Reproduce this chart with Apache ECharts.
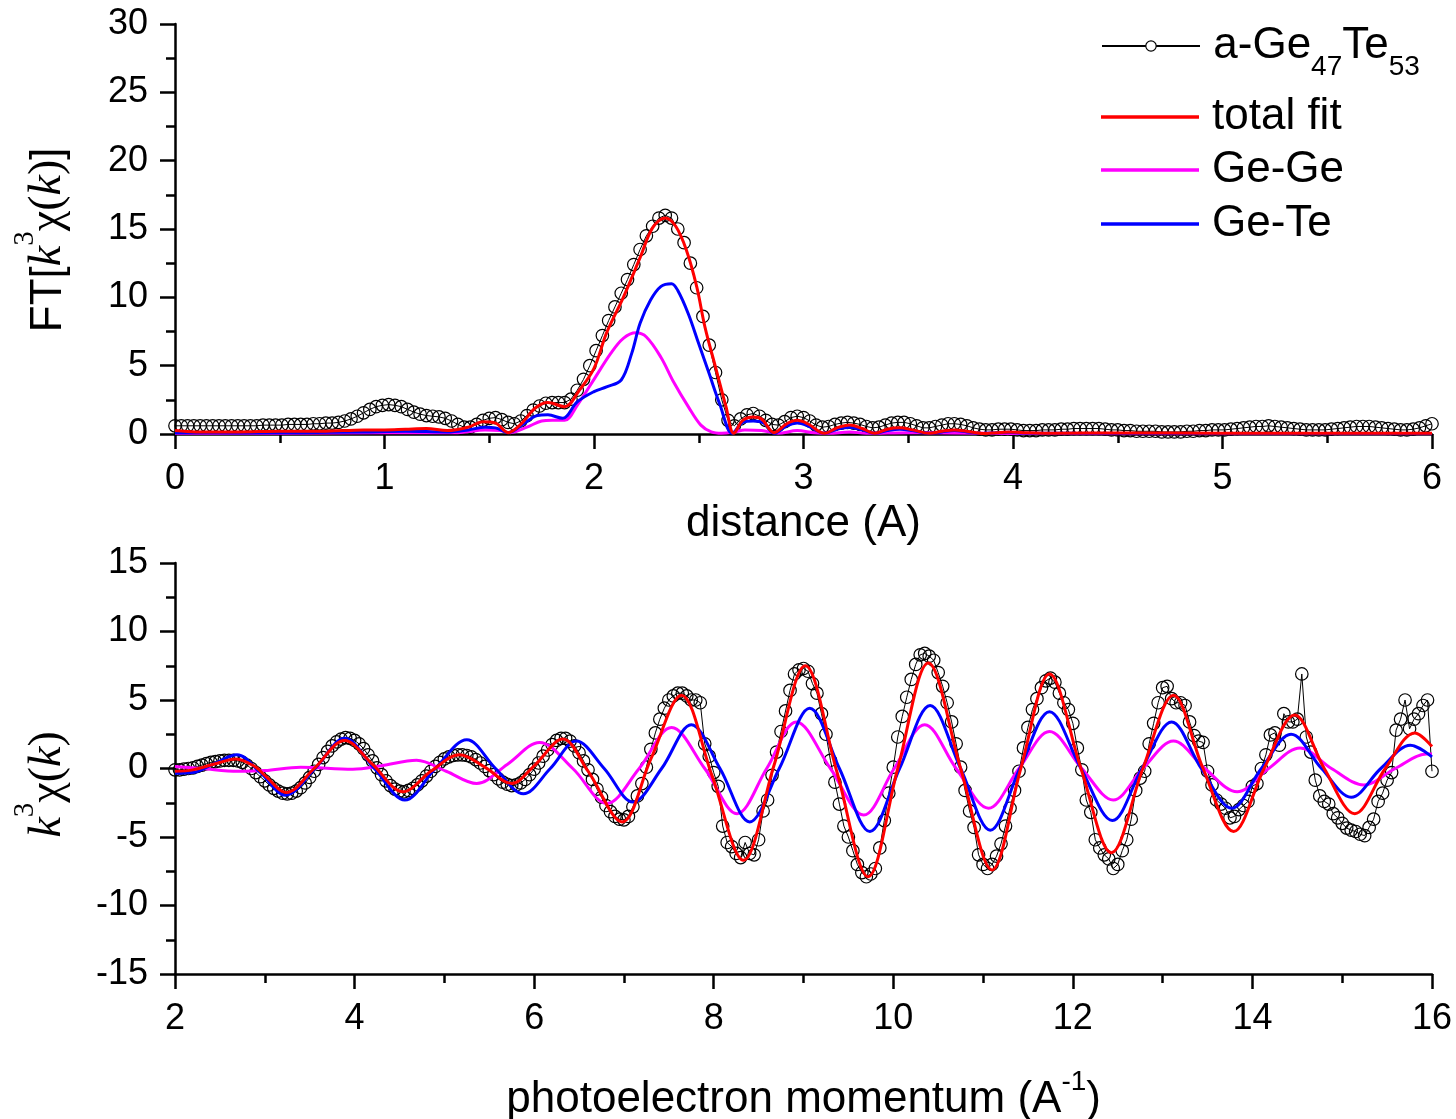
<!DOCTYPE html>
<html>
<head>
<meta charset="utf-8">
<script src="https://cdn.jsdelivr.net/npm/echarts@6/dist/echarts.min.js"></script>
<style>
html,body{margin:0;padding:0;background:#fff;}
#c{width:1456px;height:1119px;}
</style>
</head>
<body>
<div id="c"></div>
<script>
// ---------- Top panel: FT magnitude vs distance ----------
const ftStart = 0;
const ftStep = 0.03;
const ftData = [
0.6,0.6,0.6,0.6,0.6,0.6,0.6,0.6,0.6,0.6,
0.6,0.6,0.6,0.6,0.65,0.65,0.65,0.65,0.7,0.7,
0.7,0.7,0.75,0.75,0.8,0.8,0.85,0.95,1.1,1.3,
1.55,1.8,2.0,2.1,2.15,2.1,2.0,1.8,1.6,1.45,
1.35,1.3,1.25,1.15,0.95,0.7,0.5,0.5,0.7,1.0,
1.15,1.2,1.05,0.85,0.75,0.95,1.35,1.75,2.05,2.25,
2.3,2.3,2.3,2.55,3.2,4.0,5.0,6.1,7.2,8.3,
9.3,10.3,11.3,12.4,13.5,14.5,15.2,15.8,16.0,15.8,
15.0,14.0,12.5,10.7,8.6,6.5,4.5,2.5,1.0,0.6,
1.1,1.4,1.5,1.3,1.0,0.7,0.65,0.9,1.2,1.3,
1.2,0.95,0.65,0.5,0.55,0.7,0.8,0.85,0.8,0.7,
0.55,0.45,0.5,0.65,0.8,0.85,0.85,0.75,0.6,0.45,
0.45,0.55,0.65,0.75,0.75,0.7,0.6,0.45,0.35,0.3,
0.3,0.35,0.35,0.35,0.3,0.25,0.25,0.25,0.3,0.3,
0.3,0.35,0.35,0.4,0.4,0.4,0.4,0.4,0.35,0.3,
0.3,0.25,0.25,0.2,0.2,0.2,0.2,0.15,0.15,0.15,
0.15,0.2,0.2,0.25,0.25,0.3,0.3,0.3,0.35,0.4,
0.45,0.5,0.55,0.55,0.6,0.55,0.5,0.45,0.4,0.35,
0.3,0.3,0.3,0.3,0.35,0.4,0.45,0.5,0.55,0.55,
0.55,0.5,0.45,0.4,0.35,0.3,0.3,0.35,0.45,0.6,
0.75
];
const ftTotalFit = [[0,0.25],[0.1,0.15],[0.3,0.15],[0.5,0.2],[0.7,0.2],[0.9,0.3],[1.0,0.3],[1.1,0.35],[1.2,0.4],[1.3,0.25],[1.4,0.5],[1.47,0.9],[1.53,0.8],[1.59,0.1],[1.65,0.7],[1.72,1.9],[1.78,2.3],[1.86,2.0],[1.93,3.2],[2.0,4.8],[2.06,7.4],[2.14,10.0],[2.22,12.9],[2.28,15.1],[2.34,15.8],[2.39,15.2],[2.44,13.5],[2.49,10.8],[2.53,7.8],[2.58,4.9],[2.63,2.0],[2.667,0.05],[2.71,1.0],[2.76,1.25],[2.8,1.1],[2.86,0.1],[2.92,0.75],[2.97,1.0],[3.02,0.75],[3.1,0.05],[3.16,0.45],[3.22,0.65],[3.28,0.4],[3.34,0.05],[3.4,0.35],[3.46,0.45],[3.52,0.3],[3.6,0.05],[3.66,0.2],[3.72,0.3],[3.78,0.2],[3.86,0.03],[3.92,0.1],[3.98,0.15],[4.05,0.1],[4.2,0.05],[4.5,0.08],[5.0,0.05],[5.5,0.05],[6.0,0.05]];
const ftGeTe = [[0,0.1],[0.3,0.08],[0.6,0.1],[0.9,0.15],[1.1,0.2],[1.3,0.15],[1.4,0.3],[1.48,0.5],[1.53,0.45],[1.59,0.1],[1.66,0.7],[1.73,1.35],[1.78,1.4],[1.85,1.15],[1.92,2.35],[2.0,3.1],[2.06,3.45],[2.13,3.95],[2.18,5.9],[2.22,8.1],[2.27,9.8],[2.32,10.8],[2.37,11.0],[2.40,10.5],[2.45,8.8],[2.50,6.6],[2.55,4.4],[2.60,2.2],[2.66,0.05],[2.71,0.85],[2.76,0.95],[2.81,0.8],[2.86,0.05],[2.92,0.6],[2.97,0.8],[3.02,0.6],[3.1,0.05],[3.16,0.35],[3.22,0.5],[3.28,0.3],[3.34,0.05],[3.4,0.25],[3.46,0.35],[3.52,0.25],[3.6,0.05],[3.66,0.15],[3.72,0.25],[3.78,0.15],[3.86,0.03],[3.92,0.1],[3.98,0.12],[4.05,0.08],[4.3,0.05],[5.0,0.03],[6.0,0.03]];
const ftGeGe = [[0,0.05],[0.5,0.05],[1.0,0.1],[1.2,0.1],[1.35,0.1],[1.48,0.3],[1.55,0.25],[1.6,0.1],[1.68,0.5],[1.75,0.95],[1.8,1.0],[1.86,1.0],[1.92,2.1],[2.0,4.0],[2.08,5.9],[2.14,7.0],[2.2,7.4],[2.25,7.1],[2.32,5.6],[2.38,3.8],[2.45,2.0],[2.51,0.65],[2.56,0.15],[2.61,0.05],[2.67,0.15],[2.72,0.3],[2.8,0.25],[2.88,0.05],[2.97,0.25],[3.05,0.1],[3.12,0.05],[3.22,0.15],[3.3,0.05],[3.5,0.1],[3.7,0.08],[4.0,0.03],[5.0,0.02],[6.0,0.02]];

// ---------- Bottom panel: k^3 chi(k) ----------
const chiStart = 2;
const chiStep = 0.05;
const chiData = [
-0.1,-0.1,-0.05,0,0.05,0.15,0.25,0.35,0.45,0.5,
0.55,0.6,0.6,0.6,0.55,0.45,0.25,0.0,-0.3,-0.6,
-0.9,-1.2,-1.45,-1.65,-1.8,-1.85,-1.8,-1.65,-1.4,-1.05,
-0.65,-0.2,0.3,0.8,1.25,1.65,1.95,2.15,2.25,2.2,
2.05,1.8,1.45,1.0,0.55,0.05,-0.45,-0.9,-1.25,-1.5,
-1.65,-1.7,-1.6,-1.45,-1.2,-0.9,-0.55,-0.2,0.15,0.45,
0.7,0.85,0.95,1.0,1.0,0.95,0.85,0.65,0.4,0.15,
-0.15,-0.45,-0.75,-1.0,-1.15,-1.25,-1.2,-1.05,-0.8,-0.45,
-0.05,0.4,0.9,1.35,1.75,2.05,2.2,2.2,2.0,1.65,
1.15,0.55,-0.1,-0.8,-1.5,-2.1,-2.7,-3.15,-3.5,-3.7,
-3.75,-3.5,-2.8,-2.0,-1.1,0.1,1.4,2.6,3.6,4.4,
5.0,5.3,5.5,5.5,5.3,5.0,5.0,4.8,1.8,0.9,
-0.3,-1.3,-4.2,-5.4,-5.7,-6.2,-6.5,-5.4,-6.2,-6.3,
-5.2,-3.1,-2.3,-0.5,1.2,2.7,4.2,5.7,6.9,7.2,
7.3,7.1,6.2,5.5,4.0,2.5,0.6,-1.0,-2.6,-4.2,
-5.0,-6.0,-7.0,-7.6,-7.9,-7.7,-7.3,-5.8,-3.8,-1.8,
0.1,2.3,3.8,5.2,6.5,7.6,8.3,8.4,8.2,7.9,
7.0,6.0,4.8,3.4,1.8,0.1,-1.6,-3.1,-4.3,-6.3,
-7.0,-7.3,-7.0,-6.4,-5.5,-4.2,-2.9,-1.6,-0.2,1.5,
3.0,4.3,5.1,5.9,6.4,6.6,6.3,5.5,4.8,4.3,
3.3,1.5,-0.1,-2.3,-3.2,-5.2,-5.8,-6.3,-6.6,-7.3,
-7.0,-6.0,-5.2,-3.7,-1.6,-0.7,-0.2,1.8,3.3,4.8,
5.9,6.0,5.1,4.8,4.8,4.6,3.4,2.4,2.0,1.9,
-0.2,-1.2,-2.3,-2.6,-2.9,-3.6,-3.5,-3.0,-2.7,-2.4,
-1.3,-1.1,0.0,1.0,2.45,2.6,1.7,4.0,3.4,3.4,
3.6,6.9,2.3,1.2,-0.85,-2.0,-2.4,-2.6,-3.3,-3.6,
-4.0,-4.35,-4.5,-4.6,-4.8,-4.9,-4.3,-3.7,-2.4,-1.8,
-0.85,-0.3,2.8,3.6,5.0,2.9,3.6,4.0,4.6,5.0,
-0.2
];
const chiTotalFit = [[2.0,-0.2],[2.2,-0.1],[2.45,0.35],[2.68,0.7],[2.9,0.1],[3.0,-0.5],[3.24,-1.75],[3.55,0.0],[3.89,2.05],[4.2,0.3],[4.54,-1.7],[4.85,-0.2],[5.17,1.0],[5.45,0.1],[5.75,-1.1],[6.0,0.2],[6.32,2.15],[6.6,-0.2],[6.98,-3.9],[7.3,0.7],[7.64,5.35],[7.98,-0.5],[8.33,-6.7],[8.67,0.2],[9.02,7.5],[9.37,-0.2],[9.72,-7.9],[10.05,0],[10.39,7.7],[10.75,0],[11.1,-7.4],[11.42,0],[11.74,6.9],[12.09,0],[12.43,-6.15],[12.78,0],[13.12,5.35],[13.45,0],[13.79,-4.6],[14.13,0],[14.47,3.9],[14.8,0],[15.14,-3.3],[15.48,0],[15.81,2.6],[16.0,1.6]];
const chiGeTe = [[2.0,-0.35],[2.2,-0.3],[2.45,0.4],[2.69,1.0],[2.95,-0.3],[3.23,-1.95],[3.56,0],[3.89,2.2],[4.22,0],[4.56,-2.3],[4.9,0],[5.25,2.1],[5.57,0],[5.88,-1.85],[6.18,0],[6.47,2.0],[6.78,0],[7.1,-2.45],[7.42,0],[7.75,3.2],[8.07,0],[8.4,-3.9],[8.73,0],[9.07,4.4],[9.4,0],[9.74,-4.6],[10.07,0],[10.41,4.6],[10.75,0],[11.08,-4.5],[11.41,0],[11.74,4.15],[12.09,0],[12.44,-3.8],[12.77,0],[13.1,3.4],[13.43,0],[13.77,-2.9],[14.1,0],[14.43,2.5],[14.77,0],[15.1,-2.1],[15.43,0],[15.76,1.7],[16.0,0.85]];
const chiGeGe = [[2.0,0.15],[2.3,0.0],[2.7,-0.2],[3.0,-0.15],[3.4,0.1],[3.98,-0.05],[4.3,0.2],[4.69,0.6],[5.02,-0.2],[5.36,-1.1],[5.7,0.3],[6.06,1.9],[6.43,0],[6.81,-2.55],[7.17,0],[7.53,3.0],[7.9,0],[8.26,-3.3],[8.59,0],[8.92,3.4],[9.3,0],[9.67,-3.4],[10.01,0],[10.35,3.2],[10.7,0],[11.06,-2.9],[11.4,0],[11.74,2.7],[12.1,0],[12.45,-2.3],[12.78,0],[13.12,2.0],[13.47,0],[13.83,-1.7],[14.18,0],[14.53,1.5],[14.88,0],[15.24,-1.2],[15.59,0],[15.94,1.05],[16.0,1.05]];

const seriesNames = ['a-Ge47Te53', 'total fit', 'Ge-Ge', 'Ge-Te'];
const seriesColors = ['#000000', '#ff0000', '#ff00ff', '#0000ff'];

// ---------- build ----------
const SANS = '"Liberation Sans", Arial, sans-serif';
const SERIF = '"Liberation Serif", "Times New Roman", serif';

const ftPts = ftData.map((v, i) => [+(ftStart + i * ftStep).toFixed(3), v]);
const chiPts = chiData.map((v, i) => [+(chiStart + i * chiStep).toFixed(3), v]);

const richNames = {
  sp63: { fontSize: 1, lineHeight: 60, color: 'rgba(0,0,0,0)' },
  sp54: { fontSize: 1, lineHeight: 54, color: 'rgba(0,0,0,0)' },
  s: { fontFamily: SANS, fontSize: 44, lineHeight: 48, verticalAlign: 'bottom', color: '#000' },
  ki: { fontFamily: SERIF, fontStyle: 'italic', fontSize: 46, lineHeight: 48, verticalAlign: 'bottom', color: '#000' },
  sr: { fontFamily: SERIF, fontSize: 46, lineHeight: 48, verticalAlign: 'bottom', color: '#000' },
  sup: { fontFamily: SERIF, fontSize: 29, lineHeight: 29, verticalAlign: 'top', color: '#000' },
  ssup: { fontFamily: SANS, fontSize: 28, lineHeight: 28, verticalAlign: 'top', color: '#000' }
};

function xAxis(gi, min, max, interval, name, nameGap) {
  return {
    gridIndex: gi, type: 'value', min, max, interval,
    name, nameLocation: 'middle', nameGap,
    nameTextStyle: { color: '#000', fontSize: 44, fontFamily: SANS, lineHeight: 48, rich: richNames },
    axisLine: { show: true, onZero: false, lineStyle: { color: '#000', width: 2.5 } },
    axisTick: { show: true, inside: false, length: 15, lineStyle: { color: '#000', width: 2.5 } },
    minorTick: { show: true, splitNumber: 2, length: 9, lineStyle: { color: '#000', width: 2.5 } },
    axisLabel: { color: '#000', fontSize: 36, fontFamily: SANS, margin: 27 },
    splitLine: { show: false }, minorSplitLine: { show: false }
  };
}
function yAxis(gi, min, max, interval, name, nameGap, shift) {
  return {
    gridIndex: gi, type: 'value', min, max, interval,
    name, nameLocation: 'middle', nameGap, nameRotate: 90,
    nameTextStyle: { color: '#000', fontSize: 44, fontFamily: SANS, rich: richNames, padding: [0, shift, 0, 0] },
    axisLine: { show: true, onZero: false, lineStyle: { color: '#000', width: 2.5 } },
    axisTick: { show: true, inside: false, length: 15, lineStyle: { color: '#000', width: 2.5 } },
    minorTick: { show: true, splitNumber: 2, length: 9, lineStyle: { color: '#000', width: 2.5 } },
    axisLabel: { color: '#000', fontSize: 36, fontFamily: SANS, margin: 27 },
    splitLine: { show: false }, minorSplitLine: { show: false }
  };
}

function dataSeries(xi, pts) {
  return {
    name: seriesNames[0], type: 'line', xAxisIndex: xi, yAxisIndex: xi, data: pts,
    symbol: 'circle', symbolSize: 12.5, showSymbol: true,
    itemStyle: { color: 'rgba(0,0,0,0)', borderColor: '#000', borderWidth: 1.2 },
    lineStyle: { color: '#000', width: 1 }, emphasis: { disabled: true }, z: 2, animation: false
  };
}
function fitSeries(xi, idx, pts, z) {
  return {
    name: seriesNames[idx], type: 'line', xAxisIndex: xi, yAxisIndex: xi, data: pts,
    symbol: 'none', smooth: 0.35,
    itemStyle: { color: seriesColors[idx] },
    lineStyle: { color: seriesColors[idx], width: 3 }, emphasis: { disabled: true }, z, animation: false
  };
}

const legendText = { color: '#000', fontSize: 44, fontFamily: SANS, lineHeight: 48, padding: [0, 0, 0, 8] };
function legend(idx, top, extra) {
  return Object.assign({
    show: true, left: 1101, top, orient: 'vertical', selectedMode: false, padding: 0,
    itemWidth: 98, itemHeight: 3.5, icon: 'rect',
    data: [seriesNames[idx]], textStyle: legendText
  }, extra || {});
}

const option = {
  backgroundColor: '#fff',
  animation: false,
  grid: [
    { left: 175, right: 24, top: 24, height: 410, outerBoundsMode: 'none', containLabel: false },
    { left: 175, right: 24, top: 563, height: 411, outerBoundsMode: 'none', containLabel: false }
  ],
  xAxis: [
    xAxis(0, 0, 6, 1, 'distance (A)', 66),
    xAxis(1, 2, 16, 2, '{sp54| }{s|photoelectron momentum (A}{ssup|-1}{s|)}', 94)
  ],
  yAxis: [
    yAxis(0, 0, 30, 5, '{sp63| }{s|FT[}{ki|k}{sup|3}{sr|χ(}{ki|k}{sr|)}{s|]}', 104, 22),
    yAxis(1, -15, 15, 5, '{sp63| }{ki|k}{sup|3}{sr|χ(}{ki|k}{sr|)}', 104, 32)
  ],
  legend: [
    legend(0, 24, {
      icon: undefined, itemHeight: 13,
      data: [{ name: seriesNames[0], itemStyle: { color: '#fff', borderColor: '#000', borderWidth: 1.2 } }],
      formatter: () => '{sp| }{n|a-Ge}{sub|47}{n|Te}{sub|53}',
      textStyle: {
        color: '#000', fontSize: 44, fontFamily: SANS, padding: [0, 0, 0, 8],
        rich: {
          sp: { fontSize: 1, lineHeight: 70, color: 'rgba(0,0,0,0)' },
          n: { fontSize: 44, fontFamily: SANS, lineHeight: 48, verticalAlign: 'middle', color: '#000' },
          sub: { fontSize: 28, fontFamily: SANS, lineHeight: 28, verticalAlign: 'bottom', color: '#000' }
        }
      }
    }),
    legend(1, 93),
    legend(2, 146),
    legend(3, 200)
  ],
  series: [
    dataSeries(0, ftPts),
    fitSeries(0, 2, ftGeGe, 3),
    fitSeries(0, 3, ftGeTe, 4),
    fitSeries(0, 1, ftTotalFit, 5),
    dataSeries(1, chiPts),
    fitSeries(1, 2, chiGeGe, 3),
    fitSeries(1, 3, chiGeTe, 4),
    fitSeries(1, 1, chiTotalFit, 5)
  ]
};

const chart = echarts.init(document.getElementById('c'), null, { renderer: 'canvas' });
chart.setOption(option);
</script>
</body>
</html>
